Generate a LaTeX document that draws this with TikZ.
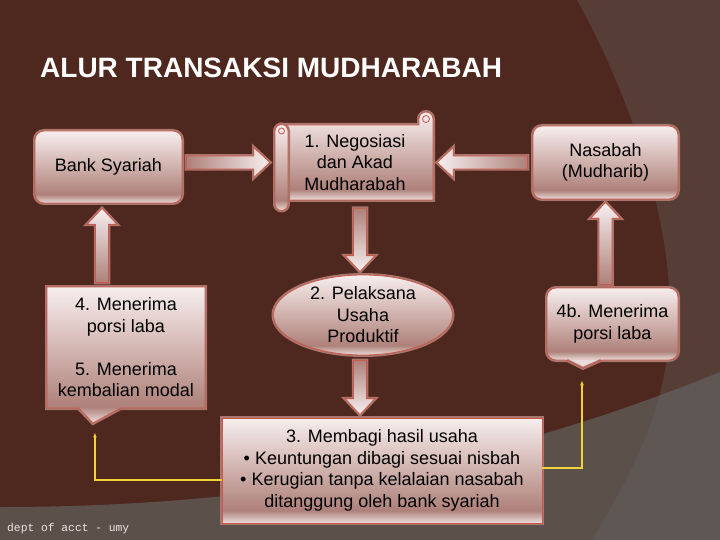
\documentclass[tikz,border=0pt]{standalone}
\usepackage{fontspec}
\setmainfont{Liberation Sans}
\newfontfamily\footfont{Liberation Mono}
\usetikzlibrary{calc,shapes.geometric,shapes.callouts,arrows.meta}

\definecolor{bgdark}{HTML}{4E271F}
\definecolor{bgright}{HTML}{563E37}
\definecolor{bgbottom}{HTML}{62625F}
\definecolor{bxtop}{HTML}{F6EEEE}
\definecolor{bxmid}{HTML}{D9BFBB}
\definecolor{bxdark}{HTML}{AE817A}
\definecolor{bxlow}{HTML}{EADCDA}
\definecolor{bxline}{HTML}{C8584A}
\definecolor{bxglow}{HTML}{A9756D}
\definecolor{yline}{HTML}{F0D23A}
\definecolor{foot}{HTML}{EDE5E2}

\pgfdeclareverticalshading{boxshade}{100bp}{color(0bp)=(bxlow); color(25bp)=(bxlow);
  color(31bp)=(bxdark); color(56bp)=(bxmid); color(75bp)=(bxtop); color(100bp)=(bxtop)}

% block arrow from #2 (tail) to #3 (tip)
\newcommand{\barrow}[3][]{%
  \path[blk,#1] ($(#2)!6.5pt!90:(#3)$) -- ($(#3)!16pt!(#2)!6.5pt!90:(#3)$)
    -- ($(#3)!16pt!(#2)!15pt!90:(#3)$) -- (#3)
    -- ($(#3)!16pt!(#2)!15pt!-90:(#3)$) -- ($(#3)!16pt!(#2)!6.5pt!-90:(#3)$)
    -- ($(#2)!6.5pt!-90:(#3)$) -- cycle;}

\begin{document}
\begin{tikzpicture}[x=1pt, y=-1pt,
    box/.style={shade, shading=boxshade, draw=bxline, line width=0.8pt,
      preaction={draw=bxglow, line width=4pt}, inner sep=0pt, align=center,
      font=\fontsize{18pt}{21.5pt}\selectfont},
    rbox/.style={box, rounded corners=9pt},
    part/.style={shade, shading=boxshade, draw=bxline, line width=0.8pt,
      preaction={draw=bxglow, line width=4pt}},
    blk/.style={draw=bxline, line width=0.8pt, preaction={draw=bxglow, line width=3.5pt},
      shade, top color=bxtop, bottom color=bxdark},
    link/.style={draw=yline, line width=1.5pt, -{Latex[length=5pt, width=4pt]}},
  ]
  % background
  \fill[bgdark] (0,0) rectangle (720,540);
  \fill[bgright] (577,0) .. controls (630,95) and (672,220) .. (670,320)
    .. controls (668,400) and (640,460) .. (592,540) -- (720,540) -- (720,0) -- cycle;
  \fill[bgbottom, opacity=0.7] (0,507) .. controls (250,507) and (480,470) .. (720,372)
    -- (720,540) -- (0,540) -- cycle;
  \useasboundingbox (0,0) rectangle (720,540);

  \node[anchor=base west, inner sep=0pt, text=white,
    font=\fontsize{28pt}{34pt}\selectfont\bfseries] (judul) at (40,78) {ALUR TRANSAKSI MUDHARABAH};

  \node[rbox, minimum width=147pt, minimum height=72pt] (bank) at (108.5,167) {Bank Syariah};

  % scroll
  \path[part] (281,125) -- (419,125) -- (419,119) arc[start angle=180, end angle=0, radius=7pt]
    -- (433,200) -- (281,200) -- cycle;
  \path[part] (275,131) -- (275,204) arc[start angle=180, end angle=360, radius=6.5pt]
    -- (288,131) arc[start angle=0, end angle=180, radius=6.5pt] -- cycle;
  \draw[bxline, line width=0.8pt] (426,119) circle[radius=3.5pt] (281.5,131) circle[radius=3pt];
  \node[align=center, inner sep=0pt, minimum width=156pt, minimum height=75pt,
    font=\fontsize{18pt}{21.5pt}\selectfont] (nego) at (355,162.5) {1. Negosiasi\\dan Akad\\Mudharabah};

  \node[rbox, minimum width=145pt, minimum height=73pt] (nasabah) at (605.5,162.5) {Nasabah\\(Mudharib)};

  \node[box, ellipse, inner ysep=-4pt, minimum width=179pt, minimum height=80pt] (usaha)
    at (363,315) {2. Pelaksana\\Usaha\\Produktif};

  \node[box, rectangle callout, callout absolute pointer={(93,423)}, callout pointer width=42pt,
    minimum width=158pt, minimum height=121pt] (laba45) at (126,347.5)
    {4. Menerima\\porsi laba\\[21.5pt]5. Menerima\\kembalian modal};

  \node[rbox, minimum width=131pt, minimum height=72pt] (laba4b) at (612.5,324) {4b. Menerima\\porsi laba};
  \coordinate (ptr4b) at ($(laba4b.south)+(-29.5,8)$);
  \path[fill=bxlow] ($(ptr4b)+(-17,-9)$) -- (ptr4b) -- ($(ptr4b)+(19,-9)$) -- cycle;
  \draw[bxline, line width=0.8pt, preaction={draw=bxglow, line width=3pt}]
    ($(ptr4b)+(-16,-8)$) -- (ptr4b) -- ($(ptr4b)+(18,-8)$);

  \node[box, minimum width=320pt, minimum height=105pt] (hasil) at (382,470.5)
    {3. Membagi hasil usaha\\• Keuntungan dibagi sesuai nisbah\\• Kerugian tanpa kelalaian nasabah\\ditanggung oleh bank syariah};

  \node[anchor=west, inner sep=0pt, text=foot, font=\footfont\fontsize{11.3pt}{13pt}\selectfont]
    (kaki) at (7,529) {dept of acct - umy};

  % block arrows
  \coordinate (a1) at ($(bank.east |- nego.west)+(4,0)$);
  \coordinate (b1) at ($(nego.west)+(-7,0)$);
  \coordinate (a2) at ($(nasabah.west)+(-5,0)$);
  \coordinate (b2) at ($(nego.east)+(4,0)$);
  \coordinate (a3) at ($(usaha.north |- nego.south)+(-3,8)$);
  \coordinate (b3) at ($(usaha.north)+(-3,-3)$);
  \coordinate (a4) at ($(usaha.south)+(-3,5)$);
  \coordinate (b4) at ($(usaha.south |- hasil.north)+(-3,-3)$);
  \coordinate (a5) at ($(bank.south |- laba45.north)+(-6.5,-4)$);
  \coordinate (b5) at ($(bank.south)+(-6.5,5)$);
  \coordinate (a6) at ($(nasabah.south |- laba4b.north)+(0,-3)$);
  \coordinate (b6) at ($(nasabah.south)+(0,3)$);
  \barrow[shading angle=270]{a1}{b1}
  \barrow[shading angle=90]{a2}{b2}
  \barrow[shading angle=180]{a3}{b3}
  \barrow[shading angle=180]{a4}{b4}
  \barrow{a5}{b5}
  \barrow{a6}{b6}

  % yellow links
  \draw[link] ($(hasil.west)+(0,9.5)$) -| ($(laba45.pointer)+(2,9)$);
  \draw[link] ($(hasil.east)+(0,-2.5)$) -| ($(ptr4b)+(-1,12)$);
\end{tikzpicture}
\end{document}
